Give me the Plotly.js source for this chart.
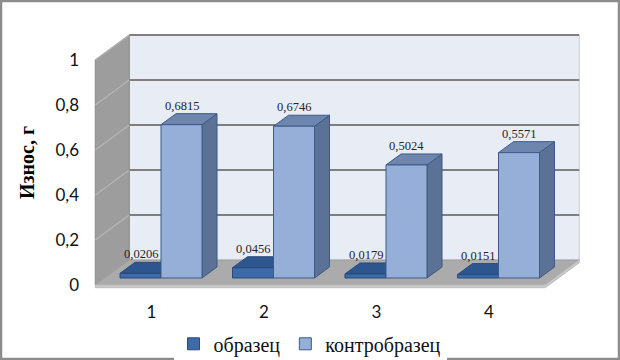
<!DOCTYPE html>
<html>
<head>
<meta charset="utf-8">
<script src="https://cdn.plot.ly/plotly-3.0.1.min.js"></script>
<style>
  html, body { margin: 0; padding: 0; background: #ffffff; }
  #chart { width: 620px; height: 360px; }
</style>
</head>
<body>
<div id="chart"></div>
<script>
// ---- data ----
const categories = ['1', '2', '3', '4'];
const sampleName = 'образец';
const controlName = 'контробразец';
const sampleValues = [0.0206, 0.0456, 0.0179, 0.0151];
const controlValues = [0.6815, 0.6746, 0.5024, 0.5571];
const sampleLabels = ['0,0206', '0,0456', '0,0179', '0,0151'];
const controlLabels = ['0,6815', '0,6746', '0,5024', '0,5571'];
const yTickVals = [0, 0.2, 0.4, 0.6, 0.8, 1];
const yTickText = ['0', '0,2', '0,4', '0,6', '0,8', '1'];
const yTitle = 'Износ, г';

// ---- style / geometry (pixels -> axis units) ----
const PX_CAT = 112.5, PX_UNIT = 225;
const xRange = [-0.6356, 3.9867];
const yRange = [-0.0667, 1.1556];
// bar plane sits slightly behind the front plane
const barShiftX = 9.5 / PX_CAT, barShiftY = 7 / PX_UNIT;
const x2Range = [xRange[0] - barShiftX, xRange[1] - barShiftX];
const y2Range = [yRange[0] - barShiftY, yRange[1] - barShiftY];
// wall depth
const DX = 34 / PX_CAT, DV = 25 / PX_UNIT;
const xL = -0.5, xR = 3.5;
// bar depth
const BDX = 15 / PX_CAT, BDV = 11 / PX_UNIT;
const bargap = 0.271;
const W = (1 - bargap) / 2;

const darkFront = '#3d6aa8', darkTop = '#2e568e', darkSide = '#2a4c7e', darkLine = '#2a4a78';
const lightFront = '#95afd8', lightTop = '#6e86ae', lightSide = '#5b7195', lightLine = '#3c5a88';

const xIdx = categories.map((c, i) => i);

function path(pts) {
  return 'M ' + pts.map(p => p[0] + ',' + p[1]).join(' L ') + ' Z';
}

const shapes = [];
// walls (front plane axes x/y)
shapes.push({type: 'path', xref: 'x', yref: 'y', layer: 'below',
  path: path([[xL + DX, DV], [xR + DX, DV], [xR + DX, 1 + DV], [xL + DX, 1 + DV]]),
  fillcolor: '#e8ecf5', line: {color: '#c8ccd4', width: 1}});
shapes.push({type: 'path', xref: 'x', yref: 'y', layer: 'below',
  path: path([[xL, 0], [xL + DX, DV], [xL + DX, 1 + DV], [xL, 1]]),
  fillcolor: '#9d9d9d', line: {color: '#8a8a8a', width: 1}});
// floor top and front edge
shapes.push({type: 'path', xref: 'x', yref: 'y', layer: 'below',
  path: path([[xL, 0], [xR, 0], [xR + DX, DV], [xL + DX, DV]]),
  fillcolor: '#ababab', line: {color: '#a0a0a0', width: 1}});
shapes.push({type: 'path', xref: 'x', yref: 'y', layer: 'below',
  path: path([[xL, -0.012], [xR, -0.012], [xR + DX, DV - 0.012], [xR + DX, DV], [xR, 0], [xL, 0]]),
  fillcolor: '#c9c9c9', line: {color: '#bdbdbd', width: 1}});
// gridlines on back and left walls
yTickVals.forEach(t => {
  if (t === 0) return;
  shapes.push({type: 'line', xref: 'x', yref: 'y', layer: 'below',
    x0: xL + DX, y0: t + DV, x1: xR + DX, y1: t + DV,
    line: {color: '#7f7f7f', width: 2}});
  shapes.push({type: 'line', xref: 'x', yref: 'y', layer: 'below',
    x0: xL, y0: t, x1: xL + DX, y1: t + DV,
    line: {color: '#b4b4b4', width: 1.5}});
});
// 3D faces of bars (bar plane axes x2/y2)
function barFaces(left, right, v, top, side, line) {
  shapes.push({type: 'path', xref: 'x2', yref: 'y2', layer: 'below',
    path: path([[right, 0], [right + BDX, BDV], [right + BDX, v + BDV], [right, v]]),
    fillcolor: side, line: {color: line, width: 1}});
  shapes.push({type: 'path', xref: 'x2', yref: 'y2', layer: 'below',
    path: path([[left, v], [right, v], [right + BDX, v + BDV], [left + BDX, v + BDV]]),
    fillcolor: top, line: {color: line, width: 1}});
}
xIdx.forEach((i, k) => {
  barFaces(i - W, i, sampleValues[k], darkTop, darkSide, darkLine);
  barFaces(i, i + W, controlValues[k], lightTop, lightSide, lightLine);
});
// outer frame
shapes.push({type: 'rect', xref: 'paper', yref: 'paper', layer: 'above',
  x0: (1 - 80) / 520, x1: (619 - 80) / 520, y0: (300 - 359) / 275, y1: (300 - 1) / 275,
  line: {color: '#8c8c8c', width: 2.5}, fillcolor: 'rgba(0,0,0,0)'});

// value labels
const annotations = [];
xIdx.forEach((i, k) => {
  annotations.push({xref: 'x2', yref: 'y2', x: i - W / 2, y: sampleValues[k],
    text: sampleLabels[k], showarrow: false, yanchor: 'bottom', yshift: 10,
    font: {family: 'Liberation Serif', size: 12.5, color: '#262626'}});
  annotations.push({xref: 'x2', yref: 'y2', x: i + W / 2, y: controlValues[k],
    text: controlLabels[k], showarrow: false, yanchor: 'bottom', yshift: 10,
    font: {family: 'Liberation Serif', size: 12.5, color: '#262626'}});
});

const traces = [
  {type: 'scatter', x: [0], y: [0], xaxis: 'x', yaxis: 'y', mode: 'markers',
   marker: {opacity: 0}, showlegend: false, hoverinfo: 'skip'},
  {type: 'bar', name: sampleName, x: xIdx, y: sampleValues, xaxis: 'x2', yaxis: 'y2',
   marker: {color: darkFront, line: {color: darkLine, width: 1}}},
  {type: 'bar', name: controlName, x: xIdx, y: controlValues, xaxis: 'x2', yaxis: 'y2',
   marker: {color: lightFront, line: {color: lightLine, width: 1}}}
];

const layout = {
  width: 620, height: 360,
  margin: {l: 80, r: 20, t: 25, b: 60},
  paper_bgcolor: '#ffffff',
  plot_bgcolor: 'rgba(0,0,0,0)',
  barmode: 'group', bargap: bargap, bargroupgap: 0,
  showlegend: true,
  legend: {orientation: 'h', xref: 'container', yref: 'container',
    x: 0.5, xanchor: 'center', y: 0.045, yanchor: 'middle',
    font: {family: 'Liberation Serif', size: 20, color: '#111111'},
    itemwidth: 30, traceorder: 'normal'},
  xaxis: {type: 'linear', range: xRange, tickvals: xIdx, ticktext: categories,
    showgrid: false, zeroline: false, showline: false, ticks: '',
    tickfont: {family: 'Lato', size: 17, color: '#111111'}, fixedrange: true},
  yaxis: {type: 'linear', range: yRange, tickvals: yTickVals, ticktext: yTickText,
    showgrid: false, zeroline: false, showline: false, ticks: '',
    tickfont: {family: 'Lato', size: 17, color: '#111111'},
    title: {text: yTitle, standoff: 15,
      font: {family: 'Liberation Serif', size: 20, color: '#000000', weight: 'bold'}},
    fixedrange: true},
  xaxis2: {type: 'linear', overlaying: 'x', range: x2Range, showgrid: false,
    zeroline: false, showline: false, showticklabels: false, ticks: ''},
  yaxis2: {type: 'linear', overlaying: 'y', range: y2Range, showgrid: false,
    zeroline: false, showline: false, showticklabels: false, ticks: ''},
  shapes: shapes,
  annotations: annotations
};

Plotly.newPlot('chart', traces, layout, {displayModeBar: false, staticPlot: true});
</script>
</body>
</html>
